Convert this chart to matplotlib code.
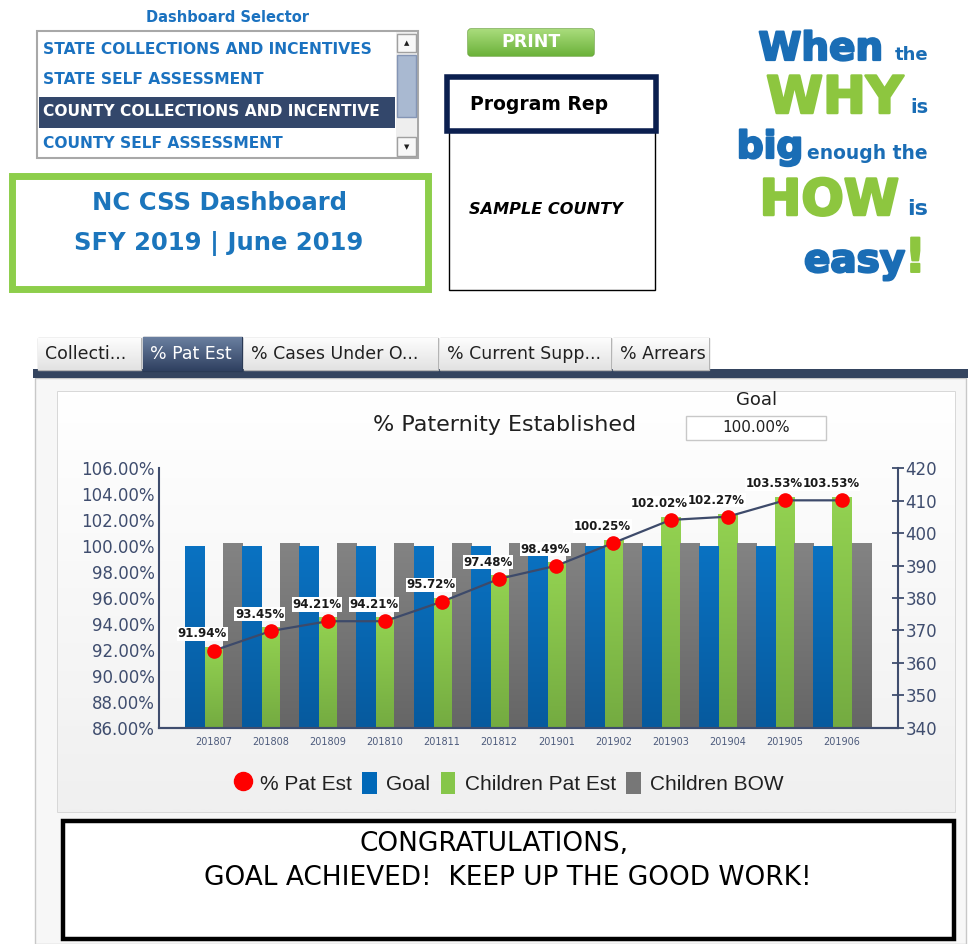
import numpy as np
import matplotlib
matplotlib.use("Agg")
import matplotlib.pyplot as plt
import matplotlib.patheffects as pe
from matplotlib.patches import Rectangle, FancyBboxPatch
from matplotlib.lines import Line2D

# chart data
months = ["201807", "201808", "201809", "201810", "201811", "201812",
          "201901", "201902", "201903", "201904", "201905", "201906"]
pct_pat_est = [91.94, 93.45, 94.21, 94.21, 95.72, 97.48,
               98.49, 100.25, 102.02, 102.27, 103.53, 103.53]
goal_pct = [100.00, 100.00, 100.00, 100.00, 100.00, 100.00,
            100.00, 100.00, 100.00, 100.00, 100.00, 100.00]
children_pat_est = [365, 371, 374, 374, 380, 387, 391, 398, 405, 406, 411, 411]
children_bow = [397, 397, 397, 397, 397, 397, 397, 397, 397, 397, 397, 397]
goal_value = "100.00%"

# dashboard texts
selector_items = ["STATE COLLECTIONS AND INCENTIVES", "STATE SELF ASSESSMENT",
                  "COUNTY COLLECTIONS AND INCENTIVE", "COUNTY SELF ASSESSMENT"]
selected_item = 2
tab_labels = ["Collecti...", "% Pat Est", "% Cases Under O...", "% Current Supp...", "% Arrears"]
tab_edges = [37, 142, 243, 439, 612, 710]
selected_tab = 1

BLUE_TXT = "#1b72c0"
AXIS_COL = "#3f4d6e"

fig = plt.figure(figsize=(9.68, 9.44), dpi=100)

# background axes in pixel coordinates for the dashboard frame
bg = fig.add_axes([0, 0, 1, 1], zorder=0)
bg.set_xlim(0, 968)
bg.set_ylim(944, 0)
bg.axis("off")


def box(x0, y0, x1, y1, **kw):
    r = Rectangle((x0, y0), x1 - x0, y1 - y0, **kw)
    bg.add_patch(r)
    return r


def vgrad(x0, y0, x1, y1, top, bottom, z=1, clip=None):
    c0 = np.array(matplotlib.colors.to_rgb(top))
    c1 = np.array(matplotlib.colors.to_rgb(bottom))
    t = np.linspace(0, 1, 64)[:, None, None]
    img = c0 + (c1 - c0) * t
    im = bg.imshow(img, extent=[x0, x1, y1, y0], aspect="auto", zorder=z, interpolation="bilinear")
    if clip is not None:
        im.set_clip_path(clip)
    return im


# --- Dashboard selector list box ---
bg.text(228, 17, "Dashboard Selector", ha="center", va="center", fontsize=10.5,
        fontweight="bold", color=BLUE_TXT)
box(37, 31, 418, 158, fc="white", ec="#a8a8a8", lw=1.5, zorder=1)
box(39, 97, 395, 128, fc="#33476b", ec="none", zorder=2)
for i, (item, yy) in enumerate(zip(selector_items, [49, 80, 112, 144])):
    bg.text(43, yy, item, ha="left", va="center", fontsize=11.2, fontweight="bold",
            color="white" if i == selected_item else BLUE_TXT, zorder=3)
box(396, 32, 417, 157, fc="#eeeeee", ec="none", zorder=2)
box(397, 34, 416, 52, fc="#f8f8f8", ec="#a0a0a0", lw=1, zorder=3)
box(397, 137, 416, 156, fc="#f8f8f8", ec="#a0a0a0", lw=1, zorder=3)
thumb = box(397, 55, 416, 117, fc="#a9b9d1", ec="#8495b5", lw=1, zorder=3)
bg.text(406.5, 43, "\u25b2", ha="center", va="center", fontsize=5, color="#202020", zorder=4)
bg.text(406.5, 147, "\u25bc", ha="center", va="center", fontsize=5, color="#202020", zorder=4)

# --- title box ---
box(12, 176, 428, 289, fc="white", ec="#8dce4b", lw=5, zorder=1)
bg.text(219, 203, "NC CSS Dashboard", ha="center", va="center", fontsize=17.5,
        fontweight="bold", color="#1b75bc", zorder=2)
bg.text(219, 244, "SFY 2019 | June 2019", ha="center", va="center", fontsize=17.5,
        fontweight="bold", color="#1b75bc", zorder=2)

# --- print button ---
pb = FancyBboxPatch((468, 29), 126, 27, boxstyle="round,pad=0,rounding_size=3",
                    fc="#80c24f", ec="#6aa33d", lw=1, zorder=1)
bg.add_patch(pb)
vgrad(468, 29, 594, 56, "#a9dc7c", "#6cb23a", z=2, clip=pb)
bg.text(531, 42, "PRINT", ha="center", va="center", fontsize=12.5, fontweight="bold",
        color="white", zorder=3)

# --- program rep boxes ---
box(449, 131, 655, 290, fc="white", ec="black", lw=1, zorder=1)
box(447, 77, 656, 131, fc="white", ec="#0b1f4f", lw=4, zorder=2)
bg.text(470, 104, "Program Rep", ha="left", va="center", fontsize=13.5, fontweight="bold",
        color="black", zorder=3)
bg.text(469, 209, "SAMPLE COUNTY", ha="left", va="center", fontsize=11.6, fontweight="bold",
        style="italic", color="black", zorder=3)

# --- slogan ---
SB = "#1a6db5"
SG = "#8dc63f"
slogan = [
    (883, 60, "When", 28, SB, 1.6), (928, 60, "the", 13, SB, 0),
    (903, 113, "WHY", 37, SG, 1.8), (928, 113, "is", 14, SB, 0),
    (803, 158, "big", 27, SB, 1.6), (928, 159, "enough the", 13.5, SB, 0),
    (899, 215, "HOW", 36, SG, 1.8), (928, 215, "is", 16, SB, 0),
    (905, 272, "easy", 28, SB, 1.6), (926, 272, "!", 34, SG, 1.4),
]
for sx, sy, s, fs, col, sw in slogan:
    effects = [pe.withStroke(linewidth=sw, foreground=col)] if sw else []
    bg.text(sx, sy, s, ha="right", va="baseline", fontsize=fs, fontweight="bold", color=col,
            zorder=2, path_effects=effects)

# --- tabs and panel ---
box(35, 378, 966, 944, fc="#f7f7f7", ec="#c8c8c8", lw=1, zorder=1)
box(33, 369, 968, 378, fc="#34445f", ec="none", zorder=2)
for i, lab in enumerate(tab_labels):
    x0, x1 = tab_edges[i] + 1, tab_edges[i + 1] - 1
    if i == selected_tab:
        t = box(x0, 337, x1, 371, fc="#3d5070", ec="#2a3a55", lw=1, zorder=3)
        vgrad(x0, 337, x1, 371, "#6a7fa0", "#2f4060", z=3, clip=t)
        col = "white"
    else:
        t = box(x0, 338, x1, 370, fc="#f0f0f0", ec="#b4b4b4", lw=1, zorder=3)
        vgrad(x0, 338, x1, 370, "#fdfdfd", "#e2e2e2", z=3, clip=t)
        col = "#202020"
    tt = bg.text(x0 + 7, 354, lab, ha="left", va="center", fontsize=12.5, color=col, zorder=4)
    tt.set_clip_path(t)

panel = box(58, 392, 955, 812, fc="white", ec="#d2d2d2", lw=1.2, zorder=2)
vgrad(58, 392, 955, 812, "#ffffff", "#f0f0f0", z=2, clip=panel)

bg.text(505, 425, "% Paternity Established", ha="center", va="center", fontsize=16,
        color="#202020", zorder=3)
bg.text(757, 400, "Goal", ha="center", va="center", fontsize=13, color="#202020", zorder=3)
box(686, 416, 826, 440, fc="white", ec="#c8c8c8", lw=1, zorder=3)
bg.text(756, 428, goal_value, ha="center", va="center", fontsize=11, color="#202020", zorder=4)

# --- congratulations box ---
box(63, 821, 954, 939, fc="white", ec="black", lw=3.2, zorder=2)
bg.text(494, 844, "CONGRATULATIONS,", ha="center", va="center", fontsize=19,
        color="black", zorder=3)
bg.text(508, 878, "GOAL ACHIEVED!  KEEP UP THE GOOD WORK!", ha="center", va="center",
        fontsize=19, color="black", zorder=3)

# --- the chart ---
ax = fig.add_axes([158.7 / 968, 1 - 727.7 / 944, 739.3 / 968, 259.4 / 944], zorder=5)
ax2 = ax.twinx()
ax2.set_zorder(4)
ax.patch.set_visible(False)
ax2.patch.set_visible(False)

x = np.arange(len(months))
w = 1 / 3
ax.set_ylim(86, 106)
ax2.set_ylim(340, 420)

goal_bars = ax.bar(x - w, goal_pct, width=w, color="#0068b8", zorder=2)
green_bars = ax2.bar(x, children_pat_est, width=w, color="#86c64a", zorder=2)
gray_bars = ax2.bar(x + w, children_bow, width=w, color="#747474", zorder=2)


def shade(axis, bars, top, bottom):
    base = axis.get_ylim()[0]
    c0 = np.array(matplotlib.colors.to_rgb(top))
    c1 = np.array(matplotlib.colors.to_rgb(bottom))
    t = np.linspace(0, 1, 64)[:, None, None]
    img = c0 + (c1 - c0) * t
    for b in bars:
        x0 = b.get_x()
        im = axis.imshow(img, extent=[x0, x0 + b.get_width(), base, b.get_height()],
                         origin="upper", aspect="auto", zorder=2.5, interpolation="bilinear")
        im.set_clip_path(b)


shade(ax, goal_bars, "#0a72c2", "#065a9e")
shade(ax2, green_bars, "#93d251", "#74ab41")
shade(ax2, gray_bars, "#838383", "#666666")

ax.set_xlim(-0.96, 11.98)
ax.set_ylim(86, 106)
ax2.set_ylim(340, 420)

ax.plot(x, pct_pat_est, color="#3d4a6a", lw=1.6, marker="o", ms=9.5,
        mfc="#ff0000", mec="#ff0000", zorder=5)
for xi, v in zip(x, pct_pat_est):
    ax.annotate(f"{v:.2f}%", (xi, v), xytext=(-8, 12), textcoords="offset points",
                ha="center", va="center", fontsize=8.5, fontweight="bold", color="#1a1a1a",
                bbox=dict(boxstyle="square,pad=0.05", fc="white", ec="none"), zorder=6)

ax.set_yticks(np.arange(86, 107, 2))
ax.yaxis.set_major_formatter(matplotlib.ticker.FuncFormatter(lambda v, p: f"{v:.2f}%"))
ax.tick_params(axis="y", length=0, pad=3, labelsize=12, labelcolor=AXIS_COL)
ax.set_xticks(x)
ax.set_xticklabels(months)
ax.tick_params(axis="x", length=0, pad=6.5, labelsize=7, labelcolor="#4d5b7c")
ax2.set_yticks(np.arange(340, 421, 10))
ax2.tick_params(axis="y", direction="inout", length=8, width=1.3, color=AXIS_COL,
                pad=1.5, labelsize=12, labelcolor=AXIS_COL)

for a in (ax, ax2):
    a.spines["top"].set_visible(False)
    for s in ("left", "right", "bottom"):
        a.spines[s].set_color(AXIS_COL)
        a.spines[s].set_linewidth(1.5)
ax.spines["right"].set_visible(False)
ax2.spines["left"].set_visible(False)

handles = [
    Line2D([], [], ls="none", marker="o", ms=13, mfc="#ff0000", mec="#ff0000"),
    Rectangle((0, 0), 1, 1, fc="#0068b8"),
    Rectangle((0, 0), 1, 1, fc="#86c64a"),
    Rectangle((0, 0), 1, 1, fc="#777777"),
]
fig.legend(handles, ["% Pat Est", "Goal", "Children Pat Est", "Children BOW"],
           loc="center", bbox_to_anchor=(510 / 968, 1 - 783 / 944), ncol=4, frameon=False,
           prop={"family": "Liberation Sans", "size": 15}, handlelength=0.7, handleheight=1.3,
           handletextpad=0.45, columnspacing=0.5, labelcolor="#202020")

fig.savefig("out.png", dpi=100)
